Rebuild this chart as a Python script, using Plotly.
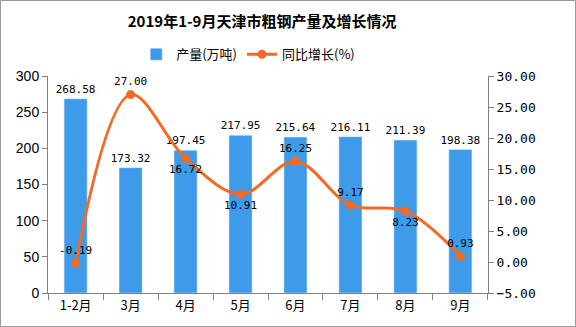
import plotly.graph_objects as go

categories = ["1-2月", "3月", "4月", "5月", "6月", "7月", "8月", "9月"]
output = [268.58, 173.32, 197.45, 217.95, 215.64, 216.11, 211.39, 198.38]
growth = [-0.19, 27.00, 16.72, 10.91, 16.25, 9.17, 8.23, 0.93]
growth_pos = ["top center", "top center", "bottom center", "bottom center",
              "top center", "top center", "bottom center", "top center"]

mono = "DejaVu Sans Mono"
fig = go.Figure()
fig.add_trace(go.Bar(
    x=categories, y=output, name="产量(万吨)",
    marker_color="#3d9be9", width=0.42,
    text=[f"{v:.2f}" for v in output], textposition="outside", constraintext="none",
    textfont=dict(family=mono, size=11, color="#000"), cliponaxis=False,
))
fig.add_trace(go.Scatter(
    x=categories, y=growth, name="同比增长(%)", yaxis="y2",
    mode="lines+markers+text", line=dict(color="#f26a25", width=3, shape="spline", smoothing=1.0),
    marker=dict(size=9, color="#f26a25"),
    text=[f"{v:.2f}" for v in growth], textposition=growth_pos,
    textfont=dict(family=mono, size=11, color="#000"), cliponaxis=False,
))

fig.update_layout(
    width=576, height=327,
    margin=dict(l=48, r=88, t=76, b=34),
    paper_bgcolor="white", plot_bgcolor="white",
    title=dict(text="<b>2019年1-9月天津市粗钢产量及增长情况</b>", x=0.455, xanchor="center",
               y=0.935, yanchor="middle",
               font=dict(family="Noto Sans CJK SC", size=15, color="#000")),
    legend=dict(orientation="h", x=0.455, xanchor="center", y=1.1, yanchor="middle",
                font=dict(family="Noto Sans CJK SC", size=13, color="#000"),
                bgcolor="rgba(0,0,0,0)"),
    showlegend=True,
    bargap=0.5,
    xaxis=dict(showline=True, linecolor="#808080", ticks="outside", tickson="boundaries",
               ticklen=6, tickcolor="#808080", showgrid=False,
               tickfont=dict(family="Noto Sans CJK SC", size=13, color="#000")),
    yaxis=dict(range=[0, 300], dtick=50, showline=True, linecolor="#808080", ticks="outside",
               ticklen=5, tickcolor="#808080", showgrid=False, zeroline=False,
               tickfont=dict(family="Liberation Sans", size=14, color="#000")),
    yaxis2=dict(range=[-5, 30], dtick=5, overlaying="y", side="right", showline=True,
                linecolor="#808080", ticks="outside", ticklen=5, tickcolor="#808080",
                showgrid=False, zeroline=False, tickformat=".2f",
                tickfont=dict(family=mono, size=13, color="#000")),
    shapes=[dict(type="rect", xref="paper", yref="paper",
                 x0=(0.5 - 48) / 440, x1=(575.5 - 48) / 440,
                 y0=(293 - 326.5) / 217, y1=(293 - 0.5) / 217,
                 line=dict(color="#999999", width=1))],
)
fig.write_html("out.html")
